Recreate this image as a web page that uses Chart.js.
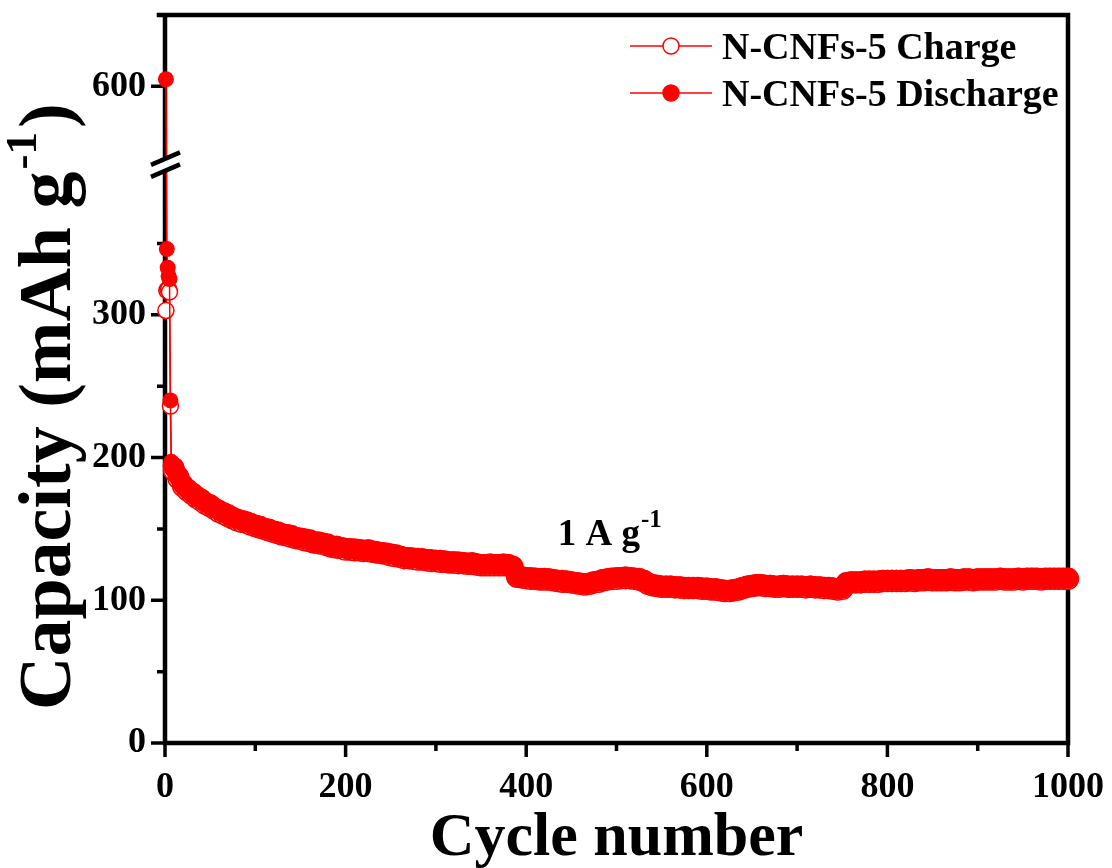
<!DOCTYPE html>
<html lang="en">
<head>
  <meta charset="UTF-8" />
  <title>N-CNFs-5 cycling at 1 A g-1</title>
  <script src="https://cdn.jsdelivr.net/npm/chart.js"></script>
  <style>
    body {
      margin: 0;
      background: #fff;
    }
    canvas {
      display: block;
    }
  </style>
</head>
<body>
  <canvas id="cycling" width="1112" height="868"></canvas>

  <script>
    // first cycles, one point each
    const earlyCycles = [1, 2, 3, 4, 5, 6, 7, 8, 9];
    const earlyDischarge = [605, 346, 333, 327, 325, 240, 197, 195, 194];
    const earlyCharge = [303, 317, 318, 318, 316, 236, 194, 193, 192];

    // long run, sampled every 5 cycles from cycle 10 to 1000
    const runStart = 10;
    const runStep = 5;
    const runDischarge = [
      193, 187, 181, 178, 175.5, 173, 171, 168.5, 167, 164.5,
      163, 161.5, 160, 158, 157, 156, 155, 154, 152.5, 152,
      150.5, 150, 148.5, 148, 146.5, 146, 145.5, 144, 143.5, 143,
      142.5, 141, 141, 140, 139.5, 138, 138, 137, 136.5, 136,
      136, 135.5, 135, 135.5, 134.5, 134, 133.5, 133, 132.5, 132,
      131, 130, 130, 129.5, 129.5, 129, 128.5, 128.5, 128, 128,
      127.5, 127, 127, 127, 126.5, 126, 126.5, 125.5, 125, 125,
      125.5, 125, 125, 125.5, 125, 124, 117, 116.5, 116, 116,
      115.5, 115, 115.5, 115, 114.5, 114, 114, 113.5, 113, 112.5,
      112, 111.5, 112, 113, 113.5, 114.5, 115, 115.5, 116, 116,
      116.5, 116, 115.5, 115.5, 114, 112, 111, 110.5, 110, 110,
      110, 109.5, 109.5, 109, 109, 109, 109, 108.5, 108.5, 108,
      108, 107.5, 107, 107, 107.5, 108, 109, 110, 110.5, 111,
      111, 110.5, 110.5, 110, 110, 110.5, 110, 110, 110, 110,
      109.5, 110, 109.5, 109.5, 109, 109, 108.5, 108, 108.5, 112.5,
      113, 113, 113, 113.5, 113.5, 113.5, 113.5, 114, 114, 114,
      114, 114, 114, 114.5, 114, 114.5, 114.5, 115, 114.5, 114.5,
      114.5, 114.5, 115, 114.5, 114.5, 115, 115, 114.5, 115, 115,
      115, 115, 115, 115.5, 115, 115, 115, 115.5, 115, 115.5,
      115.5, 115.5, 115, 115.5, 115.5, 115.5, 115.5, 115.5, 115.5
    ];
    const runCharge = [
      191, 185.5, 180, 177, 174.5, 172, 170, 167.5, 166, 164,
      162, 160.5, 159, 157.5, 156, 155, 154.5, 153, 152, 151,
      150, 149, 148, 147, 146, 145.5, 144.5, 143.5, 143, 142,
      141.5, 140.5, 140, 139.5, 138.5, 137.5, 137, 136.5, 135.5, 135.5,
      135, 135, 134.5, 134.5, 134, 133.5, 133, 132.5, 131.5, 131,
      130.5, 129.5, 129.5, 129, 128.5, 128.5, 128, 127.5, 127.5, 127,
      127, 126.5, 126.5, 126, 126, 125.5, 125.5, 125, 124.5, 124.5,
      124.5, 124.5, 124.5, 124.5, 124.5, 123, 116.5, 116, 115.5, 115,
      115, 114.5, 114.5, 114.5, 114, 113.5, 113, 113, 112.5, 112,
      111.5, 111, 111.5, 112.5, 113, 114, 114.5, 115, 115, 115.5,
      115.5, 115.5, 115, 114.5, 113.5, 111.5, 110.5, 110, 109.5, 109.5,
      109.5, 109, 109, 108.5, 108.5, 108.5, 108.5, 108, 108, 107.5,
      107.5, 107, 106.5, 106.5, 107, 107.5, 108.5, 109.5, 110, 110.5,
      110.5, 110, 110, 109.5, 109.5, 110, 109.5, 109.5, 109.5, 109.5,
      109, 109.5, 109, 109, 108.5, 108.5, 108, 107.5, 108, 112,
      112.5, 112.5, 112.5, 113, 113, 113, 113, 113.5, 113.5, 113.5,
      113.5, 113.5, 113.5, 114, 113.5, 114, 114, 114.5, 114, 114,
      114, 114, 114.5, 114, 114, 114.5, 114.5, 114, 114.5, 114.5,
      114.5, 114.5, 114.5, 115, 114.5, 114.5, 114.5, 115, 114.5, 115,
      115, 115, 114.5, 115, 115, 115, 115, 115, 115
    ];

    const xMajorTicks = [0, 200, 400, 600, 800, 1000];
    const xMinorTicks = [100, 300, 500, 700, 900];
    const yMajorTicks = [0, 100, 200, 300, 600];
    const yMinorTicks = [50, 150, 250, 350];

    // broken y axis: 405..545 is cut out
    const breakLow = 405;
    const breakHigh = 545;
    const yTop = 650;
    const gap = breakHigh - breakLow;
    const toAxis = v => (v >= breakHigh ? v - gap : v);
    const fromAxis = v => (v > breakLow ? v + gap : v);

    const red = '#ff0000';
    const serif = "'Liberation Serif', 'Times New Roman', serif";

    function points(values, offset) {
      return values.map((v, i) => ({ x: offset(i), y: toAxis(v) }));
    }
    const cycleAt = i => runStart + i * runStep;
    const chargePts = points(earlyCharge, i => earlyCycles[i]).concat(points(runCharge, cycleAt));
    const dischargePts = points(earlyDischarge, i => earlyCycles[i]).concat(points(runDischarge, cycleAt));

    // dense run symbols are drawn a bit larger so they merge into one band
    const symbolSize = c => (c.dataIndex < earlyCycles.length ? 8 : 10.5);

    // keep the plot box where the layout padding puts it
    function noEdgePadding(s) {
      s.paddingLeft = 0;
      s.paddingRight = 0;
      s.paddingTop = 0;
      s.paddingBottom = 0;
    }

    // frame, ticks, axis break, legend, annotation and axis titles
    const decor = {
      id: 'decor',
      beforeDatasetsDraw(chart) {
        const { ctx, chartArea: a, scales } = chart;
        ctx.save();
        ctx.strokeStyle = '#000';
        ctx.lineWidth = 4.5;
        ctx.lineCap = 'square';
        ctx.beginPath();
        ctx.moveTo(a.left, a.bottom);
        ctx.lineTo(a.left, a.top);
        ctx.lineTo(a.right, a.top);
        ctx.lineTo(a.right, a.bottom);
        ctx.lineTo(a.left, a.bottom);
        ctx.moveTo(a.left - 6, a.top);
        ctx.lineTo(a.left, a.top);
        ctx.stroke();

        ctx.lineWidth = 3.5;
        ctx.lineCap = 'butt';
        ctx.beginPath();
        xMajorTicks.forEach(t => {
          const x = scales.x.getPixelForValue(t);
          ctx.moveTo(x, a.bottom); ctx.lineTo(x, a.bottom + 14);
        });
        xMinorTicks.forEach(t => {
          const x = scales.x.getPixelForValue(t);
          ctx.moveTo(x, a.bottom); ctx.lineTo(x, a.bottom + 8);
        });
        yMajorTicks.forEach(t => {
          const y = scales.y.getPixelForValue(toAxis(t));
          ctx.moveTo(a.left, y); ctx.lineTo(a.left - 14, y);
        });
        yMinorTicks.forEach(t => {
          const y = scales.y.getPixelForValue(toAxis(t));
          ctx.moveTo(a.left, y); ctx.lineTo(a.left - 8, y);
        });
        ctx.stroke();
        ctx.restore();
      },
      afterDatasetsDraw(chart) {
        const { ctx, chartArea: a, scales } = chart;
        ctx.save();

        // axis break marks
        const yb = scales.y.getPixelForValue(breakLow);
        const xb = a.left;
        const s = 0.43;
        const line = (off, x0, x1) => [x0, yb + off - (x0 - xb) * s, x1, yb + off - (x1 - xb) * s];
        const A = line(-6, xb - 14, xb + 15);
        const B = line(6, xb - 14, xb + 15);
        ctx.fillStyle = '#fff';
        ctx.beginPath();
        ctx.moveTo(A[0], A[1]); ctx.lineTo(A[2], A[3]); ctx.lineTo(B[2], B[3]); ctx.lineTo(B[0], B[1]);
        ctx.closePath();
        ctx.fill();
        ctx.strokeStyle = '#000';
        ctx.lineWidth = 4.5;
        ctx.beginPath();
        ctx.moveTo(A[0], A[1]); ctx.lineTo(A[2], A[3]);
        ctx.moveTo(B[0], B[1]); ctx.lineTo(B[2], B[3]);
        ctx.stroke();

        // legend
        const rows = [
          { label: 'N-CNFs-5 Charge', fill: '#fff', y: 46 },
          { label: 'N-CNFs-5 Discharge', fill: red, y: 93 }
        ];
        rows.forEach(r => {
          ctx.strokeStyle = red;
          ctx.lineWidth = 1.5;
          ctx.beginPath();
          ctx.moveTo(630, r.y); ctx.lineTo(712, r.y);
          ctx.stroke();
          ctx.beginPath();
          ctx.arc(671, r.y, 8, 0, Math.PI * 2);
          ctx.fillStyle = r.fill;
          ctx.fill();
          ctx.stroke();
          ctx.fillStyle = '#000';
          ctx.font = `bold 38px ${serif}`;
          ctx.textBaseline = 'alphabetic';
          ctx.textAlign = 'left';
          ctx.fillText(r.label, 722, r.y + 13);
        });

        // current density note
        const nx = scales.x.getPixelForValue(435);
        const ny = scales.y.getPixelForValue(139);
        ctx.font = `bold 37px ${serif}`;
        ctx.fillText('1 A g', nx, ny);
        const w = ctx.measureText('1 A g').width;
        ctx.font = `bold 25px ${serif}`;
        ctx.fillText('-1', nx + w + 1, ny - 18);

        // x title
        ctx.font = `bold 62px ${serif}`;
        ctx.textAlign = 'center';
        ctx.fillText('Cycle number', (a.left + a.right) / 2, 855);

        // y title with superscript, rotated
        ctx.translate(70, 710);
        ctx.rotate(-Math.PI / 2);
        ctx.textAlign = 'left';
        ctx.font = `bold 74px ${serif}`;
        const main = 'Capacity (mAh g';
        ctx.fillText(main, 0, 0);
        let px = ctx.measureText(main).width + 2;
        ctx.font = `bold 45px ${serif}`;
        ctx.fillText('-1', px, -34);
        px += ctx.measureText('-1').width + 4;
        ctx.font = `bold 74px ${serif}`;
        ctx.fillText(')', px, 0);

        ctx.restore();
      }
    };

    new Chart(document.getElementById('cycling').getContext('2d'), {
      type: 'line',
      data: {
        datasets: [
          {
            label: 'N-CNFs-5 Charge',
            data: chargePts,
            borderColor: red,
            borderWidth: 1.5,
            pointRadius: symbolSize,
            pointBackgroundColor: '#fff',
            pointBorderColor: red,
            pointBorderWidth: 1.5,
            clip: false,
            order: 2
          },
          {
            label: 'N-CNFs-5 Discharge',
            data: dischargePts,
            borderColor: red,
            borderWidth: 1.5,
            pointRadius: symbolSize,
            pointBackgroundColor: red,
            pointBorderColor: red,
            pointBorderWidth: 0,
            clip: false,
            order: 1
          }
        ]
      },
      options: {
        responsive: false,
        animation: false,
        layout: { padding: { left: 0, top: 15, right: 44, bottom: 0 } },
        scales: {
          x: {
            type: 'linear',
            min: 0,
            max: 1000,
            afterBuildTicks: s => { s.ticks = xMajorTicks.map(v => ({ value: v })); },
            afterFit: s => { s.height = 125; noEdgePadding(s); },
            grid: { display: false },
            border: { display: false },
            ticks: {
              color: '#000',
              font: { family: serif, size: 36, weight: 'bold' },
              padding: 15,
              autoSkip: false,
              maxRotation: 0,
              callback: v => String(v)
            }
          },
          y: {
            type: 'linear',
            min: 0,
            max: yTop - gap,
            afterBuildTicks: s => { s.ticks = yMajorTicks.map(v => ({ value: toAxis(v) })); },
            afterFit: s => { s.width = 165; noEdgePadding(s); },
            grid: { display: false },
            border: { display: false },
            ticks: {
              color: '#000',
              font: { family: serif, size: 36, weight: 'bold' },
              padding: 11,
              autoSkip: false,
              callback: v => String(fromAxis(v))
            }
          }
        },
        plugins: {
          legend: { display: false },
          tooltip: { enabled: false }
        }
      },
      plugins: [decor]
    });
  </script>
</body>
</html>
